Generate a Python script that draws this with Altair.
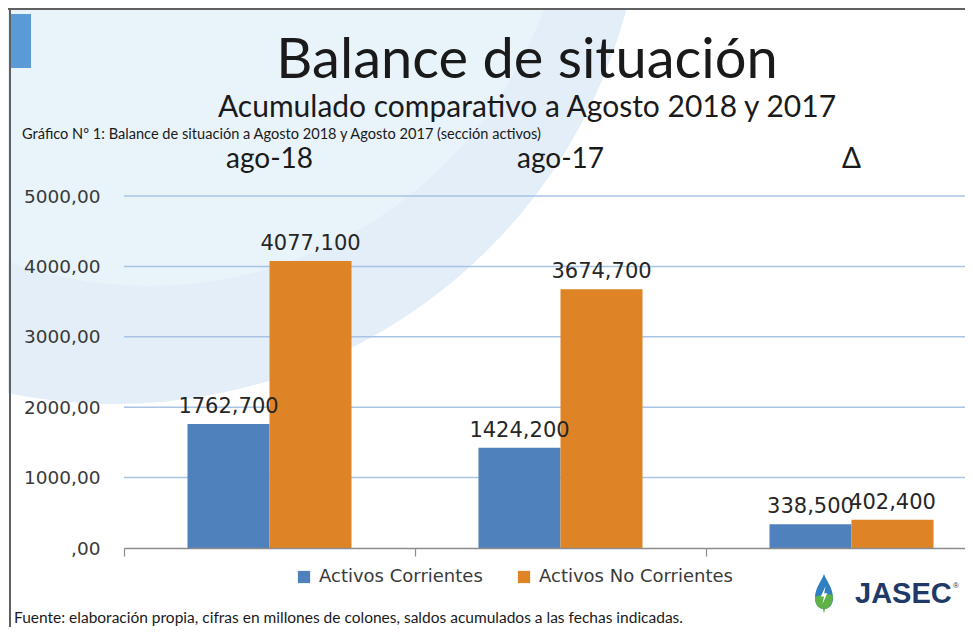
import altair as alt
import pandas as pd

# ---------------- data ----------------
cats = ["ago-18", "ago-17", "Δ"]
series = ["Activos Corrientes", "Activos No Corrientes"]
corrientes = [1762.7, 1424.2, 338.5]
no_corrientes = [4077.1, 3674.7, 402.4]
y_ticks = [0, 1000, 2000, 3000, 4000, 5000]
colors = ["#4f81bd", "#df8426"]

title = "Balance de situación"
subtitle = "Acumulado comparativo a Agosto 2018 y 2017"
caption = "Gráfico Nº 1: Balance de situación a  Agosto 2018 y Agosto 2017 (sección activos)"
footer = "Fuente: elaboración propia, cifras en millones de colones, saldos acumulados a las fechas indicadas."
logo_text = "JASEC"

rows = []
for c, a, b in zip(cats, corrientes, no_corrientes):
    rows.append({"cat": c, "series": series[0], "value": a, "label": f"{a:.3f}".replace(".", ",")})
    rows.append({"cat": c, "series": series[1], "value": b, "label": f"{b:.3f}".replace(".", ",")})
df = pd.DataFrame(rows)
grid_df = pd.DataFrame({"v": y_ticks[1:]})
cat_df = pd.DataFrame({"cat": cats})
one = pd.DataFrame({"a": [0]})

W, H = 841, 352

x_enc = alt.X(
    "cat:N",
    sort=cats,
    scale=alt.Scale(domain=cats, range=[0, 873], paddingInner=0, paddingOuter=0),
    axis=alt.Axis(labels=False, title=None, tickBand="extent", tickSize=8,
                  domainColor="#8c8c8c", tickColor="#8c8c8c", domainWidth=1.5,
                  tickWidth=1.2, grid=False, zindex=1),
)
y_scale = alt.Scale(domain=[0, 5000], nice=False, zero=True)
xoff = alt.XOffset("series:N", sort=series,
                   scale=alt.Scale(domain=series, paddingOuter=0.774, paddingInner=0))

# background swirl
bg = alt.Chart(one).mark_arc(theta=0, theta2=6.2832, radius=530, color="#e3eef8").encode(
    x=alt.value(-10), y=alt.value(-322)
)
bg2 = alt.Chart(one).mark_arc(theta=0, theta2=6.2832, radius=420, color="#e8f3fa").encode(
    x=alt.value(25), y=alt.value(-330)
)

grid = alt.Chart(grid_df).mark_rule(color="#a9c3e3", strokeWidth=1.5).encode(
    y=alt.Y("v:Q", scale=y_scale), x=alt.value(0), x2=alt.value(W)
)

bars = alt.Chart(df).mark_bar().encode(
    x=x_enc,
    xOffset=xoff,
    y=alt.Y("value:Q", scale=y_scale,
            axis=alt.Axis(values=y_ticks, title=None, grid=False, domain=False, ticks=False,
                          labelExpr="datum.value == 0 ? ',00' : format(datum.value, 'd') + ',00'",
                          labelFont="DejaVu Sans", labelFontSize=18.5, labelColor="#3a3a3a",
                          labelPadding=24, zindex=1)),
    color=alt.Color("series:N", scale=alt.Scale(domain=series, range=colors),
                    legend=alt.Legend(orient="none", legendX=171, legendY=372,
                                      direction="horizontal", title=None,
                                      symbolType="square", symbolSize=150,
                                      symbolStrokeWidth=0, labelFont="DejaVu Sans",
                                      labelFontSize=18, labelColor="#3a3a3a",
                                      labelLimit=0,
                                      columnPadding=32, labelOffset=6, padding=0)),
)

labels = alt.Chart(df).mark_text(font="DejaVu Sans", fontSize=21, baseline="alphabetic",
                                  dy=-11, color="#262626").encode(
    x=alt.X("cat:N", sort=cats),
    xOffset=alt.XOffset("series:N", sort=series),
    y=alt.Y("value:Q", scale=y_scale),
    text="label:N",
)

heads = alt.Chart(cat_df).mark_text(font="Lato", fontSize=28, baseline="alphabetic",
                                     color="#1a1a1a").encode(
    x=alt.X("cat:N", sort=cats), y=alt.value(-28), text="cat:N"
)

def txt(s, x, y, size, font="Lato", align="center", color="#1a1a1a", weight="normal"):
    return alt.Chart(one).mark_text(text=s, font=font, fontSize=size, align=align,
                                    baseline="alphabetic", color=color,
                                    fontWeight=weight).encode(
        x=alt.value(x), y=alt.value(y))

t_title = txt(title, 403, -118, 56)
t_sub = txt(subtitle, 403, -79, 30)
t_cap = txt(caption, -102, -57, 14.6, align="left")
t_foot = txt(footer, -110, 427, 15.5, align="left")
t_logo = txt(logo_text, 731, 407, 29, font="Liberation Sans", align="left",
             color="#1f3a68", weight="bold")
t_reg = txt("®", 829, 392, 8, font="Liberation Sans", align="left", color="#1f3a68")

# frame lines and blue tab
frame_left = alt.Chart(one).mark_rule(color="#606060", strokeWidth=2).encode(
    x=alt.value(-114), y=alt.value(-188), y2=alt.value(431))
frame_top = alt.Chart(one).mark_rule(color="#606060", strokeWidth=2).encode(
    x=alt.value(-116), x2=alt.value(W), y=alt.value(-187))
tab = alt.Chart(one).mark_rect(color="#5b9bd5").encode(
    x=alt.value(-113), x2=alt.value(-93), y=alt.value(-182), y2=alt.value(-128))

# logo drop
drop_path = ("M0,-1 C0.15,-0.6 0.45,-0.3 0.45,0.2 C0.45,0.55 0.25,0.75 0,0.75 "
             "C-0.25,0.75 -0.45,0.55 -0.45,0.2 C-0.45,-0.3 -0.15,-0.6 0,-1 Z")
green_path = ("M-0.45,0.15 C-0.2,0.05 0.2,-0.05 0.45,0.05 C0.45,0.55 0.25,0.75 0,0.75 "
              "C-0.25,0.75 -0.45,0.55 -0.45,0.15 Z M-0.06,0.74 L0.06,0.74 L0,0.98 Z")
bolt_path = "M0.08,-0.4 L-0.16,0.12 L0.0,0.12 L-0.08,0.5 L0.17,-0.04 L0.01,-0.04 Z"

def sym(path, color):
    return alt.Chart(one).mark_point(shape=path, size=1600, filled=True, color=color,
                                     opacity=1, strokeWidth=0).encode(
        x=alt.value(700), y=alt.value(398))

logo = sym(drop_path, "#2f7fc1") + sym(green_path, "#5fb246") + sym(bolt_path, "#ffffff")

chart = alt.layer(
    bg, bg2, tab, frame_left, frame_top, grid, bars, labels, heads,
    t_title, t_sub, t_cap, t_foot, t_logo, t_reg, logo
).properties(
    width=W, height=H,
    autosize=alt.AutoSizeParams(type="none"),
    padding={"left": 116, "top": 188, "right": 0, "bottom": 79},
    background="white",
).configure_view(strokeWidth=0)

chart.save("out.html", embed_options={"renderer": "svg", "actions": False})
